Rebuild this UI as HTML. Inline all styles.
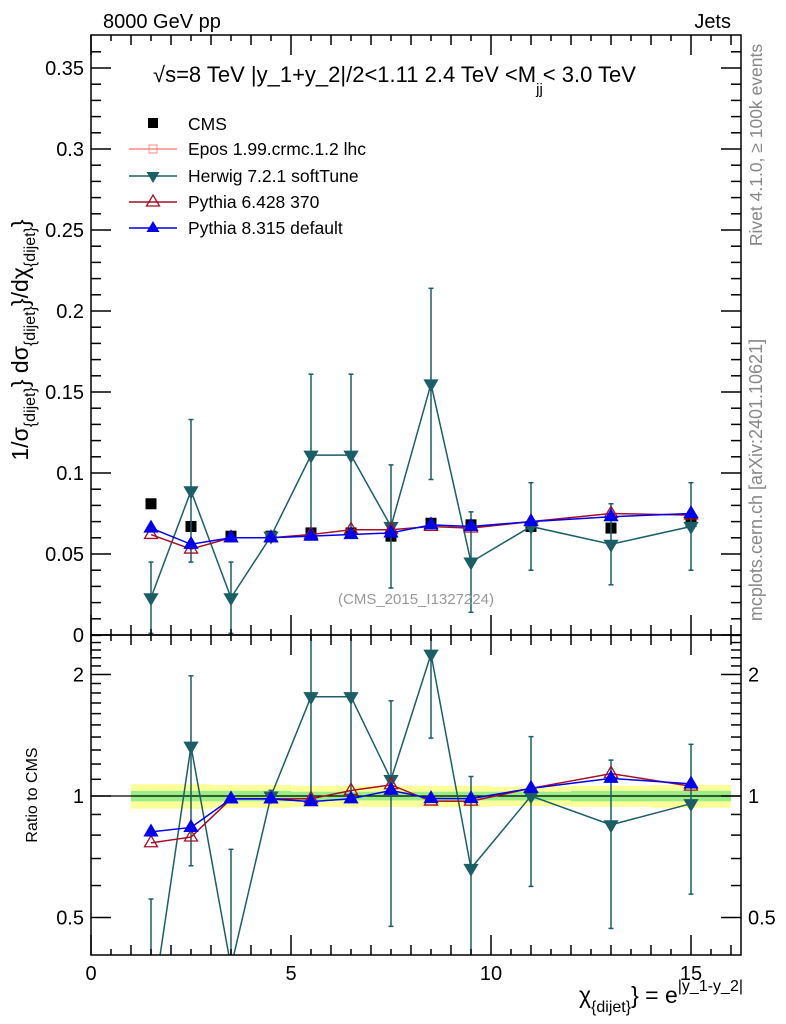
<!DOCTYPE html>
<html><head><meta charset="utf-8">
<style>
html,body{margin:0;background:#fff;width:786px;height:1024px;overflow:hidden;}
svg{display:block;font-family:"Liberation Sans",Arial,sans-serif;}
</style></head>
<body>
<svg id="c" width="786" height="1024" viewBox="0 0 786 1024" style="position:absolute;left:0;top:0"></svg>
<script>
const xCenters=[1.5,2.5,3.5,4.5,5.5,6.5,7.5,8.5,9.5,11,13,15];
const cms=[0.081,0.067,0.061,0.061,0.063,0.063,0.061,0.069,0.068,0.067,0.066,0.070];
const herwig=[0.023,0.089,0.023,0.061,0.111,0.111,0.067,0.155,0.045,0.067,0.056,0.067];
const herwigErr=[0.022,0.044,0.022,0.002,0.050,0.050,0.038,0.059,0.031,0.027,0.025,0.027];
const pythia6=[0.062,0.053,0.060,0.060,0.062,0.065,0.065,0.067,0.066,0.070,0.075,0.074];
const pythia8=[0.066,0.056,0.060,0.060,0.061,0.062,0.063,0.068,0.067,0.070,0.073,0.075];
const binEdges=[1,2,3,4,5,6,7,8,9,10,12,14,16];
const bandYellow=[0.07,0.07,0.065,0.065,0.06,0.06,0.06,0.06,0.06,0.055,0.06,0.065];
const bandGreen=[0.03,0.03,0.03,0.03,0.025,0.025,0.025,0.025,0.025,0.025,0.03,0.03];
const mainTicks=[0,0.05,0.1,0.15,0.2,0.25,0.3,0.35];
const mainTickLabels=["0","0.05","0.1","0.15","0.2","0.25","0.3","0.35"];
const ratioTicks=[0.5,1,2];
const xTicks=[0,5,10,15];

const L=91,R=741,MT=35,MB=635,RT=635,RB=955;
const X=v=>L+v*40;
const Y=v=>635-v*1620;
const YR=r=>796-Math.log2(r)*121.5;
const svg=document.getElementById('c');
const NS='http://www.w3.org/2000/svg';
function el(tag,attrs,parent){const e=document.createElementNS(NS,tag);for(const k in attrs)e.setAttribute(k,attrs[k]);(parent||svg).appendChild(e);return e;}
function txt(s,attrs,parent){const e=el('text',attrs,parent);e.textContent=s;return e;}
function clipG(id,y0,y1){const cp=el('clipPath',{id:id});el('rect',{x:L,y:y0,width:R-L,height:y1-y0},cp);return el('g',{'clip-path':'url(#'+id+')'});}

const gb=clipG('cr',RT,RB);


for(let i=0;i<xCenters.length;i++){
  const x0=X(binEdges[i]),x1=X(binEdges[i+1]);
  el('rect',{x:x0,y:YR(1+bandYellow[i]),width:x1-x0,height:YR(1-bandYellow[i])-YR(1+bandYellow[i]),fill:'#ffff99'},gb);
  el('rect',{x:x0,y:YR(1+bandGreen[i]),width:x1-x0,height:YR(1-bandGreen[i])-YR(1+bandGreen[i]),fill:'#99ee88'},gb);
}
el('line',{x1:L,x2:R,y1:YR(1),y2:YR(1),stroke:'#000','stroke-width':1.3},gb);

function tri(g,x,y,down,color,fill){const s=6.5;const d=down?`M${x-s},${y-s*0.6}L${x+s},${y-s*0.6}L${x},${y+s*1.1}Z`:`M${x-s},${y+s*0.6}L${x+s},${y+s*0.6}L${x},${y-s*1.1}Z`;el('path',{d:d,fill:fill,stroke:color,'stroke-width':1.3},g);}

function drawPanel(gp,valf,errf){
  const gh=el('g',{},gp);
  
  
  for(let i=0;i<xCenters.length;i++){
    const x=X(xCenters[i]);const e=errf(i);
    el('line',{x1:x,x2:x,y1:e[0],y2:e[1],stroke:'#1b5e66','stroke-width':1.5},gh);
    el('line',{x1:x-2.5,x2:x+2.5,y1:e[0],y2:e[0],stroke:'#1b5e66','stroke-width':1.5},gh);
    el('line',{x1:x-2.5,x2:x+2.5,y1:e[1],y2:e[1],stroke:'#1b5e66','stroke-width':1.5},gh);
  }
  el('polyline',{points:xCenters.map((c,i)=>X(c)+','+valf('h',i)).join(' '),fill:'none',stroke:'#1b5e66','stroke-width':1.5},gh);
  xCenters.forEach((c,i)=>tri(gh,X(c),valf('h',i),true,'#1b5e66','#1b5e66'));
  const g6=el('g',{},gp);
  
  
  el('polyline',{points:xCenters.map((c,i)=>X(c)+','+valf('p6',i)).join(' '),fill:'none',stroke:'#a50f26','stroke-width':1.5},g6);
  xCenters.forEach((c,i)=>tri(g6,X(c),valf('p6',i),false,'#a50f26','none'));
  const g8=el('g',{},gp);
  
  
  el('polyline',{points:xCenters.map((c,i)=>X(c)+','+valf('p8',i)).join(' '),fill:'none',stroke:'#0000ee','stroke-width':1.5},g8);
  xCenters.forEach((c,i)=>tri(g8,X(c),valf('p8',i),false,'#0000ee','#0000ee'));
}
const src={h:herwig,p6:pythia6,p8:pythia8};

const gm=clipG('cm',MT,MB);
const gc=el('g',{},gm);


xCenters.forEach((c,i)=>el('rect',{x:X(c)-5.5,y:Y(cms[i])-5.5,width:11,height:11,fill:'#000'},gc));
drawPanel(gm,(k,i)=>Y(src[k][i]),i=>[Y(herwig[i]+herwigErr[i]),Y(herwig[i]-herwigErr[i])]);

const gr=clipG('cr2',RT,RB);
drawPanel(gr,(k,i)=>YR(src[k][i]/cms[i]),i=>[YR((herwig[i]+herwigErr[i])/cms[i]),YR(Math.max(herwig[i]-herwigErr[i],0.001)/cms[i])]);

const fr=el('g',{stroke:'#000','stroke-width':1.5,fill:'none'});


el('rect',{x:L,y:MT,width:R-L,height:MB-MT},fr);
el('rect',{x:L,y:RT,width:R-L,height:RB-RT},fr);
for(let v=0;v<=0.37;v+=0.01){const vv=Math.round(v*100)/100;const maj=Math.abs(vv*20-Math.round(vv*20))<1e-6;const len=maj?20:10;const y=Y(vv);
  el('line',{x1:L,x2:L+len,y1:y,y2:y},fr);el('line',{x1:R,x2:R-len,y1:y,y2:y},fr);}
const gyl=el('g',{});


mainTicks.forEach((v,i)=>txt(mainTickLabels[i],{x:84,y:Y(v)+7,'text-anchor':'end','font-size':20},gyl));
for(let v=0;v<=16;v++){const maj=v%5===0;
  [[MB,maj?20:10],[MT,maj?20:10],[RB,maj?20:10]].forEach(([y,len],j)=>{const d=(j===1)?1:-1;el('line',{x1:X(v),x2:X(v),y1:y,y2:y+d*len},fr);});
  el('line',{x1:X(v),x2:X(v),y1:MB,y2:MB+(maj?20:10)},fr);
  if(v<16){el('line',{x1:X(v+0.5),x2:X(v+0.5),y1:MB,y2:MB-6},fr);el('line',{x1:X(v+0.5),x2:X(v+0.5),y1:RB,y2:RB-6},fr);el('line',{x1:X(v+0.5),x2:X(v+0.5),y1:MT,y2:MT+6},fr);el('line',{x1:X(v+0.5),x2:X(v+0.5),y1:MB,y2:MB+6},fr);}
}
const gxl=el('g',{});


xTicks.forEach(v=>txt(String(v),{x:X(v),y:980,'text-anchor':'middle','font-size':20},gxl));
const rminor=[0.4,0.5,0.6,0.7,0.8,0.9,1,1.1,1.2,1.3,1.4,1.5,1.6,1.7,1.8,1.9,2,2.1,2.2,2.3,2.4,2.5];
rminor.forEach(r=>{const maj=ratioTicks.includes(r);const len=maj?20:10;const y=YR(r);if(y<RT||y>RB)return;
  el('line',{x1:L,x2:L+len,y1:y,y2:y},fr);el('line',{x1:R,x2:R-len,y1:y,y2:y},fr);});
const grl=el('g',{});


ratioTicks.forEach(r=>{txt(String(r),{x:84,y:YR(r)+7,'text-anchor':'end','font-size':20},grl);txt(String(r),{x:748,y:YR(r)+7,'text-anchor':'start','font-size':20},grl);});
</script>
<svg width="786" height="1024" style="position:absolute;left:0;top:0">
<g font-family="Liberation Sans, Arial, sans-serif">
<text x="103" y="28" font-size="20">8000 GeV pp</text>
<text x="731" y="28" font-size="20" text-anchor="end">Jets</text>
<text x="153" y="82" font-size="22">√s=8 TeV |y_1+y_2|/2&lt;1.11 2.4 TeV &lt;M<tspan font-size="15" dy="12">jj</tspan><tspan dy="-12">&lt; 3.0 TeV</tspan></text>
<g font-size="17.5">
<rect x="148" y="118" width="10" height="10" fill="#000"/>
<text x="188" y="130">CMS</text>
<line x1="129" x2="177" y1="149" y2="149" stroke="#f88" stroke-width="1.5"/>
<rect x="149" y="145" width="8" height="8" fill="none" stroke="#f88"/>
<text x="188" y="155">Epos 1.99.crmc.1.2 lhc</text>
<line x1="129" x2="177" y1="176" y2="176" stroke="#1b5e66" stroke-width="1.5"/>
<path d="M146.5,172 L159.5,172 L153,183 Z" fill="#1b5e66"/>
<text x="188" y="182">Herwig 7.2.1 softTune</text>
<line x1="129" x2="177" y1="202" y2="202" stroke="#a50f26" stroke-width="1.5"/>
<path d="M146.5,206 L159.5,206 L153,195 Z" fill="none" stroke="#a50f26" stroke-width="1.3"/>
<text x="188" y="208">Pythia 6.428 370</text>
<line x1="129" x2="177" y1="228" y2="228" stroke="#0000ee" stroke-width="1.5"/>
<path d="M146.5,232 L159.5,232 L153,221 Z" fill="#0000ee"/>
<text x="188" y="234">Pythia 8.315 default</text>
</g>
<text x="416" y="604" font-size="15" fill="#999" text-anchor="middle">(CMS_2015_I1327224)</text>
<text transform="translate(762,145) rotate(-90)" font-size="17.5" fill="#888" text-anchor="middle">Rivet 4.1.0, ≥ 100k events</text>
<text transform="translate(762,480) rotate(-90)" font-size="18" fill="#888" text-anchor="middle">mcplots.cern.ch [arXiv:2401.10621]</text>
<text transform="translate(28,340) rotate(-90)" font-size="23" text-anchor="middle">1/σ<tspan font-size="16" dy="7">{dijet}</tspan><tspan dy="-7">} dσ</tspan><tspan font-size="16" dy="7">{dijet}</tspan><tspan dy="-7">}/dχ</tspan><tspan font-size="16" dy="7">{dijet}</tspan><tspan dy="-7">}</tspan></text>
<text transform="translate(37,795) rotate(-90)" font-size="16" text-anchor="middle">Ratio to CMS</text>
<text x="743" y="1003" font-size="23" text-anchor="end">χ<tspan font-size="16" dy="9">{dijet}</tspan><tspan dy="-9">} = e</tspan><tspan font-size="16" dy="-12">|y_1-y_2|</tspan></text>
</g>
</svg>
</body></html>
